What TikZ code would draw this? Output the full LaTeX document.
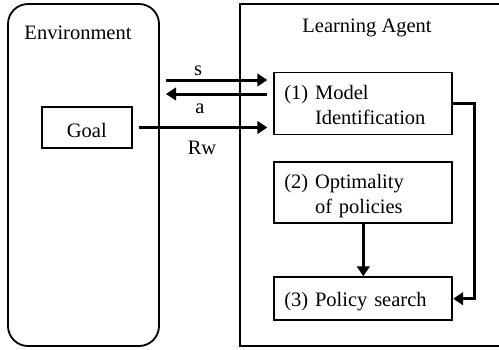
\documentclass[tikz,border=0pt]{standalone}
\usepackage{fontspec}
\setmainfont{Liberation Serif}
\usetikzlibrary{arrows.meta}
\newcommand{\lowered}[1]{\raisebox{-3pt}[\height][\depth]{#1}}
\begin{document}
\begin{tikzpicture}[x=1pt,y=-1pt,
		every node/.style={font=\fontsize{20.5}{25}\selectfont},
		frame/.style={draw,line width=1.8pt},
		blk/.style={frame,minimum width=178pt,minimum height=#1,inner xsep=10pt,text width=158pt,align=left},
		flow/.style={line width=3pt,-{Triangle[length=10pt,width=12.5pt]}}]
			\useasboundingbox (0,0) rectangle (499,349);
			\node[frame,rounded corners=20pt,minimum width=151pt,minimum height=342pt] (env) at (83.5,175) {};
			\node[frame,minimum width=280pt,minimum height=342pt] (agent) at (380,175) {};
			\node[anchor=base] (envlabel) at (78,39) {Environment};
			\node[anchor=base] (agentlabel) at (367,32) {Learning Agent};
			\node[frame,minimum width=90pt,minimum height=41pt] (goal) at (86.8,127.5) {\lowered{Goal}};
			\node[blk=62pt] (m1) at (363.3,103.5) {\lowered{\begin{tabular}{@{}l@{\ }l@{}}(1) & Model\\ & Identification\end{tabular}}};
			\node[blk=61pt] (m2) at (363.3,192.8) {\lowered{\begin{tabular}{@{}l@{\ }l@{}}(2) & Optimality\\ & of policies\end{tabular}}};
			\node[blk=43pt] (m3) at (363.3,298.7) {\lowered{(3) Policy search}};
			\coordinate (s0) at (166,80);
			\coordinate (a0) at (166,94);
			\draw[flow,shorten >=6pt] (s0) -- (s0 -| m1.west);
			\draw[flow,shorten <=6pt] (a0 -| m1.west) -- (a0);
			\draw[flow,shorten <=6.5pt,shorten >=6pt] (goal.east) -- (goal.east -| m1.west);
			\draw[flow] (m2.south) -- (m3.north);
			\draw[flow] (m1.east) -- ++(21,0) |- (m3.east);
			\node[anchor=base] (slabel) at (198,75) {s};
			\node[anchor=base] (alabel) at (200,113) {a};
			\node[anchor=base] (rwlabel) at (202,154) {Rw};
		\end{tikzpicture}
\end{document}
